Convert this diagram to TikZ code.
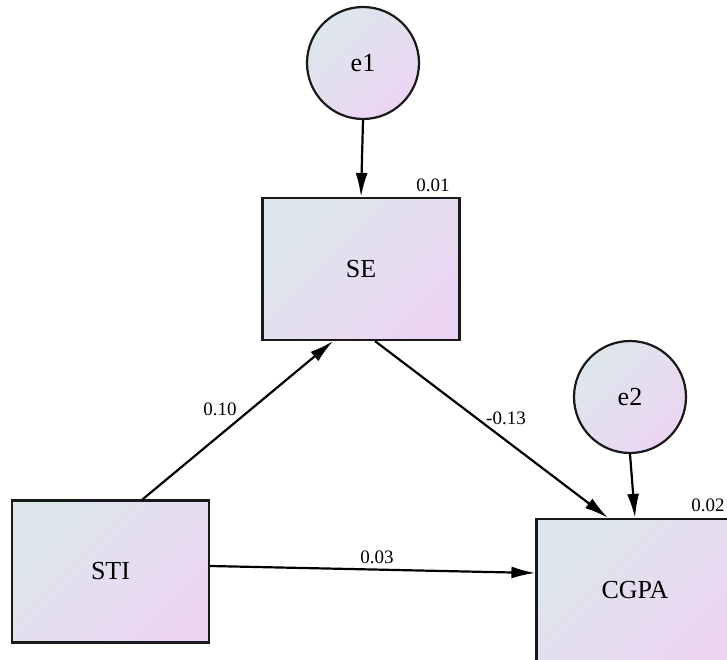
\documentclass[tikz,border=0pt]{standalone}
\usepackage{fontspec}
\setmainfont{Liberation Serif}
\usetikzlibrary{arrows.meta}
\definecolor{fillA}{RGB}{220,231,235}
\definecolor{fillB}{RGB}{236,213,243}
\begin{document}
\begin{tikzpicture}[x=1pt,y=-1pt,
  obsbox/.style={draw=black!90, line width=2.2pt, minimum width=197pt, minimum height=142pt,
    top color=fillA, bottom color=fillB, shading angle=45, inner sep=0pt,
    font=\fontsize{26}{30}\selectfont},
  errcirc/.style={circle, draw=black!90, line width=2.2pt, minimum size=112pt,
    top color=fillA, bottom color=fillB, shading angle=45, inner sep=0pt,
    font=\fontsize{26}{30}\selectfont},
  conn/.style={line width=2.2pt, black, -{Latex[length=24pt,width=12pt]}},
  wlabel/.style={font=\fontsize{19}{22}\selectfont, inner sep=0pt}
]
\clip (0,0) rectangle (727,660);
\fill[white] (0,0) rectangle (727,660);
\node[errcirc] (e1) at (363,63) {e1};
\node[obsbox] (se) at (361,269) {SE};
\node[obsbox] (sti) at (110.5,571.5) {STI};
\node[obsbox] (cgpa) at (635,590) {CGPA};
\node[errcirc] (e2) at (630,397) {e2};

\node[wlabel] (l01) at (433,185) {0.01};
\node[wlabel] (l02) at (708,505) {0.02};
\node[wlabel] (l10) at (220,409) {0.10};
\node[wlabel] (l13) at (506,418) {-0.13};
\node[wlabel] (l03) at (377,557) {0.03};

\draw[conn] (e1.south) -- (se.north);
\draw[conn] (e2.south) -- (cgpa.north);
\draw[conn] ([xshift=32pt]sti.north) -- ([xshift=-28pt]se.south);
\draw[conn] ([xshift=14pt]se.south) -- ([xshift=-27pt]cgpa.north);
\draw[conn] ([yshift=5.5pt]sti.east) -- ([yshift=17pt]cgpa.west);
\end{tikzpicture}
\end{document}
